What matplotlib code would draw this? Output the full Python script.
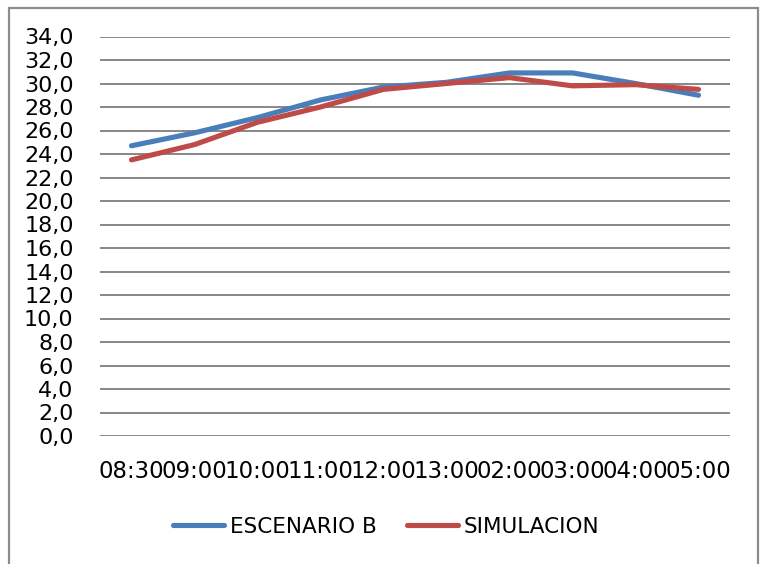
import matplotlib
matplotlib.use("Agg")
import matplotlib.pyplot as plt
from matplotlib.patches import Rectangle
from matplotlib.ticker import FuncFormatter, MultipleLocator

# chart data
horas = ["08:30", "09:00", "10:00", "11:00", "12:00", "13:00", "02:00", "03:00", "04:00", "05:00"]
escenario_b = [24.7, 25.8, 27.1, 28.6, 29.7, 30.1, 30.9, 30.9, 30.0, 29.0]
simulacion = [23.5, 24.8, 26.7, 28.0, 29.5, 30.0, 30.5, 29.8, 29.9, 29.5]

plt.rcParams["font.family"] = ["DejaVu Sans"]

fig = plt.figure(figsize=(7.6, 5.64), dpi=100)
ax = fig.add_axes([100 / 760, 1 - 436 / 564, 630 / 760, (436 - 36.5) / 564])

# outer chart frame (open at the bottom)
fig.patches.append(Rectangle((9 / 760, -0.05), 749 / 760, 1.05 - 7.5 / 564,
                             transform=fig.transFigure, fill=False,
                             edgecolor="#8c8c8c", linewidth=1.6))

x = range(len(horas))
ax.plot(x, escenario_b, color="#4A7EBB", linewidth=3.7, solid_capstyle="round",
        label="ESCENARIO B", zorder=3)
ax.plot(x, simulacion, color="#BE4B48", linewidth=3.7, solid_capstyle="round",
        label="SIMULACION", zorder=3)

ax.set_xlim(-0.5, len(horas) - 0.5)
ax.set_ylim(0, 34)
ax.yaxis.set_major_locator(MultipleLocator(2))
ax.yaxis.set_major_formatter(FuncFormatter(lambda v, p: f"{v:.1f}".replace(".", ",")))
ax.set_xticks(list(x))
ax.set_xticklabels(horas)
ax.grid(axis="y", color="#878787", linewidth=1.4)
ax.set_axisbelow(True)
for s in ax.spines.values():
    s.set_visible(False)
ax.tick_params(axis="both", length=0, colors="black")
ax.tick_params(axis="y", pad=19, labelsize=16)
ax.tick_params(axis="x", pad=17, labelsize=16.5)

fig.legend(loc="center", bbox_to_anchor=(386 / 760, 1 - 527 / 564), ncol=2,
           frameon=False, fontsize=15.5, handlelength=2.4, handletextpad=0.25,
           columnspacing=1.4)

fig.savefig("out.png", dpi=100)
